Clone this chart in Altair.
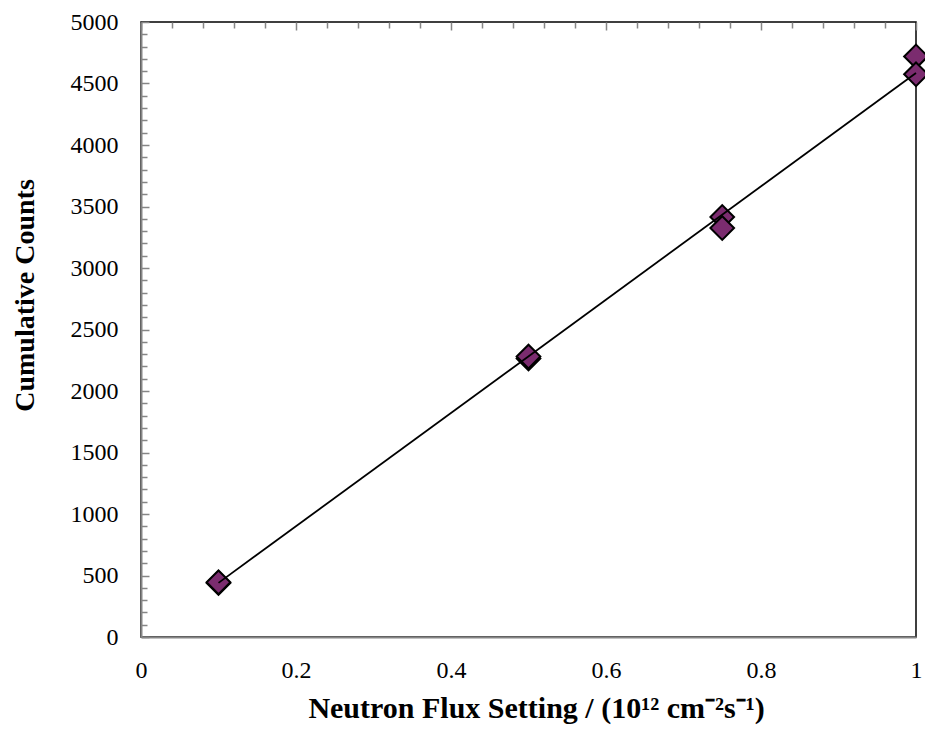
import altair as alt
import pandas as pd

# Measured data points (neutron flux setting vs cumulative counts)
flux = [0.1, 0.1, 0.5, 0.5, 0.75, 0.75, 1.0, 1.0]
counts = [440, 445, 2265, 2280, 3415, 3325, 4720, 4575]

# Linear trend line end points
fit_x = [0.1, 1.0]
fit_y = [440, 4585]

# Tick positions
y_ticks = list(range(0, 5001, 100))
x_ticks = [round(i * 0.04, 2) for i in range(0, 26)]

pts = pd.DataFrame({"x": flux, "y": counts})
fit = pd.DataFrame({"x": fit_x, "y": fit_y})

FONT = "Liberation Serif"
GRAY = "#868686"

x_scale = alt.Scale(domain=[0, 1], nice=False, zero=False)
y_scale = alt.Scale(domain=[0, 5000], nice=False, zero=False)

x_axis = alt.Axis(
    title="Neutron Flux Setting / (10¹² cm⁻²s⁻¹)",
    values=x_ticks, tickCount=200,
    labelExpr="(abs(datum.value*5 - round(datum.value*5)) < 1e-6) ? format(round(datum.value*5)/5, '~g') : ''",
    labelFont=FONT, labelFontSize=24, labelColor="black",
    labelPadding=21, labelOverlap=False, labelFlush=False,
    ticks=False,
    domain=True, domainColor=GRAY, domainWidth=2,
    grid=True, gridColor=GRAY, gridWidth=1.5, gridOpacity=1,
    gridDash={"condition": {"test": "abs(datum.value*5 - round(datum.value*5)) < 1e-6", "value": [8, 3000]},
              "value": [6, 3000]},
    titleFont=FONT, titleFontSize=30, titleFontWeight="bold", titleColor="black",
    titleX=395, titleY=80, titleBaseline="alphabetic", titleAlign="center",
)

y_axis = alt.Axis(
    title="Cumulative Counts",
    values=y_ticks, tickCount=200,
    format="d",
    labelExpr="datum.value % 500 === 0 ? datum.label : ''",
    labelFont=FONT, labelFontSize=24, labelColor="black",
    labelPadding=23, labelOverlap=False, labelFlush=False,
    ticks=False,
    domain=True, domainColor=GRAY, domainWidth=2,
    grid=True, gridColor=GRAY, gridWidth=1.5, gridOpacity=1,
    gridDash={"condition": {"test": "datum.value % 500 === 0", "value": [8, 3000]},
              "value": [6, 3000]},
    titleFont=FONT, titleFontSize=28, titleFontWeight="bold", titleColor="black",
    titleX=-108, titleY=273, titleBaseline="alphabetic", titleAlign="center", titleAngle=-90,
)

points = alt.Chart(pts).mark_point(
    shape="diamond", filled=True, fill="#7B2C6F", stroke="black",
    strokeWidth=2, size=560, opacity=1,
).encode(
    x=alt.X("x:Q", scale=x_scale, axis=x_axis),
    y=alt.Y("y:Q", scale=y_scale, axis=y_axis),
)

line = alt.Chart(fit).mark_line(color="black", strokeWidth=1.8).encode(
    x=alt.X("x:Q", scale=x_scale),
    y=alt.Y("y:Q", scale=y_scale),
)

chart = alt.layer(points, line).properties(
    width=775, height=615,
    autosize=alt.AutoSizeParams(type="none"),
    padding={"left": 141, "top": 22, "right": 9, "bottom": 96},
    background="white",
).configure_view(
    stroke="black", strokeWidth=1.5,
)

chart.save("out.html", embed_options={"renderer": "svg", "actions": False})
